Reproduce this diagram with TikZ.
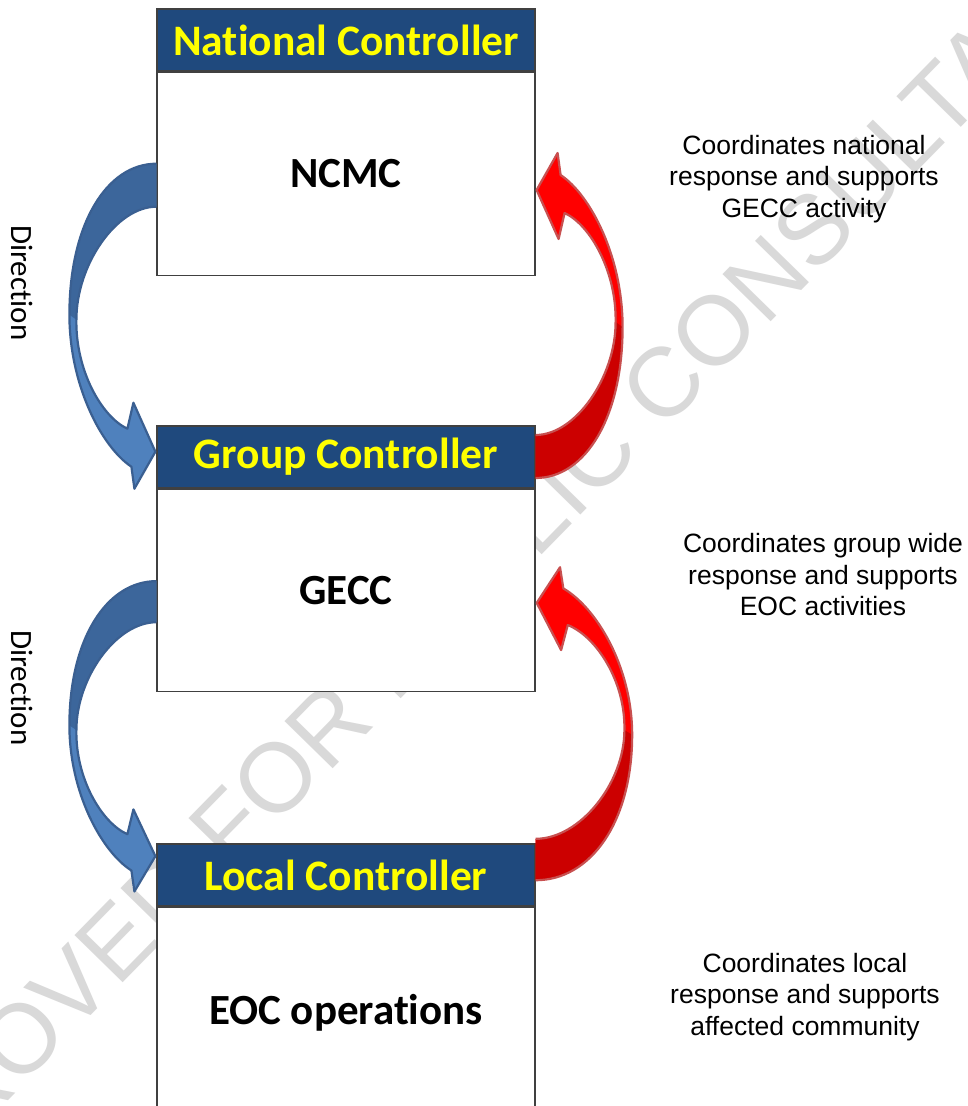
\documentclass[tikz,border=0pt]{standalone}
\usepackage{fontspec}
\newfontfamily\carlito[Ligatures=NoCommon]{Carlito}
\newfontfamily\arialf{Liberation Sans}
\usetikzlibrary{calc}
\definecolor{hdrblue}{RGB}{31,73,125}
\definecolor{hdryellow}{RGB}{255,255,0}
\definecolor{boxline}{RGB}{64,64,64}
\definecolor{blueA}{RGB}{79,129,189}
\definecolor{blueB}{RGB}{60,102,155}
\definecolor{blueL}{RGB}{58,95,145}
\definecolor{redA}{RGB}{255,0,0}
\definecolor{redB}{RGB}{204,0,0}
\definecolor{redL}{RGB}{200,80,80}
\definecolor{wmark}{RGB}{217,217,217}

% curved block arrow: tail centred at local origin, head below-left pointing right
\newcommand\curvarrow[3]{%
  \fill[#1] (0,-21) .. controls (-50,-21) and (-87,40) .. (-87,130)
   .. controls (-87,200) and (-55,262) .. (-25,282)
   -- (-22,304) -- (-1,267) -- (-23,218) -- (-29,244)
   .. controls (-55,232) and (-81,185) .. (-80,135)
   .. controls (-80,80) and (-40,22) .. (0,22) -- cycle;
  \fill[#2] (0,-21) .. controls (-50,-21) and (-87,40) .. (-87,130)
   -- (-80,135) .. controls (-80,80) and (-40,22) .. (0,22) -- cycle;
  \draw[#3,line width=2.2,line join=round] (0,-21) .. controls (-50,-21) and (-87,40) .. (-87,130)
   .. controls (-87,200) and (-55,262) .. (-25,282)
   -- (-22,304) -- (-1,267) -- (-23,218) -- (-29,244)
   .. controls (-55,232) and (-81,185) .. (-80,135)
   .. controls (-80,80) and (-40,22) .. (0,22);
}

\tikzset{
  hdr/.style={draw=boxline, fill=hdrblue, line width=1.2, minimum width=378,
    minimum height=62, inner sep=0, text=hdryellow,
    font=\carlito\bfseries\fontsize{43.5}{50}\selectfont},
  bodybox/.style={draw=boxline, fill=white, line width=1.2, minimum width=378,
    inner sep=0, text depth=0pt, anchor=north,
    font=\carlito\bfseries\fontsize{43}{50}\selectfont},
  note/.style={align=center, inner sep=0,
    font=\arialf\fontsize{26.5}{31.5}\selectfont},
  dirlabel/.style={rotate=-90, inner sep=0,
    font=\carlito\fontsize{31}{37}\selectfont},
}

\begin{document}
\begin{tikzpicture}[x=1pt,y=-1pt]
\useasboundingbox (0,0) rectangle (968,1106);
\clip (0,0) rectangle (968,1106);
\fill[white] (0,0) rectangle (968,1106);

% watermark
\node[rotate=45.6, text=wmark, inner sep=0,
  font=\arialf\fontsize{98}{110}\selectfont] (wm) at (484,566)
  {APPROVED FOR PUBLIC CONSULTATION};

% boxes
\node[hdr] (h1) at (346,40) {National Controller};
\node[bodybox, minimum height=203] (b1) at (h1.south) {NCMC};
\node[hdr] (h2) at (346,457) {Group Controller};
\node[bodybox, minimum height=202] (b2) at (h2.south) {GECC};
\node[hdr] (h3) at (346,875) {Local Controller};
\node[bodybox, minimum height=204] (b3) at (h3.south) {EOC operations};

% blue direction arrows (NCMC -> Group, GECC -> Local)
\begin{scope}[shift={($(b1.west)+(0,11)$)}]
  \curvarrow{blueA}{blueB}{blueL}
\end{scope}
\begin{scope}[shift={($(b2.west)+(0,11)$)}, yscale=0.955]
  \curvarrow{blueA}{blueB}{blueL}
\end{scope}

% red support arrows (Group -> NCMC, Local -> GECC)
\begin{scope}[shift={(h2.east)}, rotate=180]
  \curvarrow{redA}{redB}{redL}
\end{scope}
\begin{scope}[shift={($(h3.east)+(0,-15)$)}, rotate=180, xscale=1.11, yscale=0.963]
  \curvarrow{redA}{redB}{redL}
\end{scope}

% labels
\node[dirlabel] (d1) at (22,283) {Direction};
\node[dirlabel] (d2) at (22,688) {Direction};

\node[note] (n1) at (804,179) {Coordinates national\\response and supports\\GECC activity};
\node[note] (n2) at (823,575) {Coordinates group wide\\response and supports\\EOC activities};
\node[note] (n3) at (805,997) {Coordinates local\\response and supports\\affected community};
\end{tikzpicture}
\end{document}
